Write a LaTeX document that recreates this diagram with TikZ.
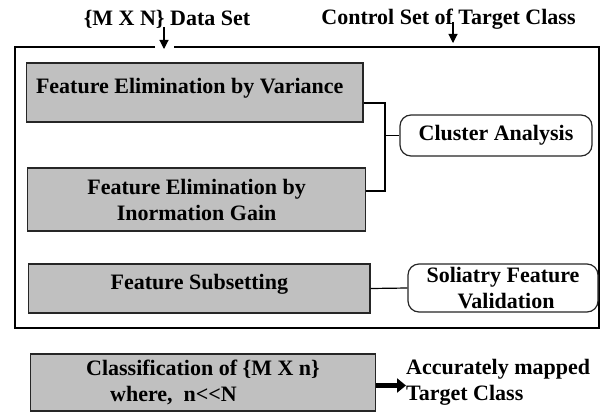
\documentclass[tikz,border=0pt]{standalone}
\usepackage{fontspec}
\setmainfont{Liberation Serif}
\usetikzlibrary{arrows.meta}
\definecolor{boxgray}{RGB}{192,192,192}
\tikzset{
  base/.style={font=\fontsize{22}{26}\selectfont\bfseries, inner sep=0pt},
  graybox/.style={base, draw=black!85, line width=1.2pt, fill=boxgray, align=center},
  roundbox/.style={base, draw=black!85, line width=1.2pt, fill=white, rounded corners=11pt, align=center},
  lbl/.style={base, align=left},
  conn/.style={draw=black, line width=1.2pt},
  smallarrow/.style={draw=black, line width=1.1pt, -{Triangle[length=9pt,width=9pt]}},
  bigarrow/.style={draw=black, line width=5.5pt, -{Triangle[length=9pt,width=14pt]}},
}
\begin{document}
\begin{tikzpicture}[x=1pt,y=-1pt]
\useasboundingbox (0,0) rectangle (601,412);
% titles
\node[lbl] (ds) at (167,19) {\{M X N\} Data Set};
\node[lbl] (cs) at (448.5,19) {Control Set of Target Class};
% frame
\draw[line width=1.2pt] (155,47) -- (15,47) -- (15,328) -- (599,328) -- (599,47) -- (174,47);
\coordinate (a1s) at (164,27);
\coordinate (a1e) at (164,49);
\coordinate (a2s) at (453,22);
\coordinate (a2e) at (453,43);
\draw[smallarrow] (a1s) -- (a1e);
\draw[smallarrow] (a2s) -- (a2e);
% boxes
\node[graybox, minimum width=336.6pt, minimum height=59pt, text depth=13pt] (b1) at (194.7,92.5) {Feature Elimination by Variance\hspace*{10pt}};
\node[graybox, minimum width=338pt, minimum height=63pt] (b2) at (196.6,199.5) {Feature Elimination by\\Inormation Gain};
\node[roundbox, minimum width=192pt, minimum height=41pt] (cl) at (496,135.5) {Cluster Analysis};
\node[graybox, minimum width=341.3pt, minimum height=49pt, text depth=14pt] (b3) at (199.4,288.5) {Feature Subsetting};
\node[roundbox, minimum width=190pt, minimum height=48pt] (sv) at (503,288) {Soliatry Feature\\\hspace*{6pt}Validation};
\node[graybox, minimum width=344.3pt, minimum height=57pt, align=left] (b4) at (203,382.5) {Classification of \{M X n\}\\\hspace*{24pt}where,\ \ n{<}{<}N};
\node[lbl, anchor=west] (acc) at (406,382.5) {Accurately mapped\\Target Class};
% connectors
\coordinate (j1) at (385,103);
\coordinate (j2) at (385,191);
\draw[conn] ([yshift=-10.5pt]b1.east) -- (j1) -- (j2) -- ([yshift=8.5pt]b2.east);
\draw[conn] (j1 |- cl.west) -- (cl.west);
\draw[conn] (b3.east) -- (sv.west);
\draw[bigarrow] ([yshift=-3pt]b4.east) -- ([yshift=-3pt]acc.west);
\end{tikzpicture}
\end{document}
